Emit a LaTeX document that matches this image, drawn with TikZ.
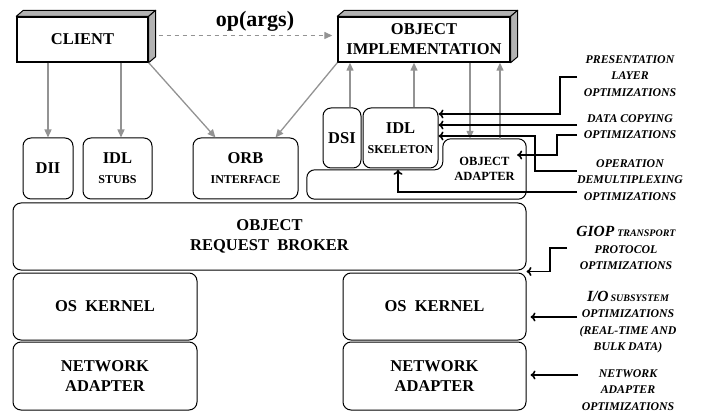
\documentclass[tikz,border=0pt]{standalone}
\usepackage{fontspec}
\setmainfont{Liberation Serif}
\usetikzlibrary{arrows.meta,calc}

\tikzset{
  box/.style={draw, line width=1pt, rounded corners=8pt, inner sep=0pt, align=center,
    font=\bfseries\fontsize{16.5}{20}\selectfont},
  slab/.style={draw, line width=1.4pt, fill=white, inner sep=0pt, align=center,
    font=\bfseries\fontsize{16.5}{20}\selectfont},
  shade/.style={draw, line width=1pt, fill=gray!60, line join=round},
  garrow/.style={draw=gray!85, line width=1.3pt, -{Triangle[length=8pt,width=7pt]}},
  darrow/.style={garrow, dash pattern=on 4pt off 4pt},
  barrow/.style={line width=1.6pt, -{To[length=5pt,width=9pt]}},
  note/.style={align=center, inner sep=0pt,
    font=\bfseries\itshape\fontsize{11.8}{16.5}\selectfont},
}
\newcommand\smallword[1]{{\fontsize{12}{14}\selectfont #1}}
\newcommand\bigword[1]{{\fontsize{15.5}{16}\selectfont #1}}
\newcommand\capword[1]{{\fontsize{10}{12}\selectfont #1}}
% raised top and side faces of a solid box
\newcommand\solidfaces[1]{%
  \draw[shade] (#1.north west) -- ++(7,-6) -- ([shift={(7,-6)}]#1.north east)
    -- (#1.north east) -- cycle;
  \draw[shade] (#1.north east) -- ([shift={(7,-6)}]#1.north east)
    -- ([shift={(7,-6)}]#1.south east) -- (#1.south east) -- cycle;
}

\begin{document}
\begin{tikzpicture}[x=1pt, y=-1pt]
\useasboundingbox (0,0) rectangle (704,414);

% client and servant
\node[slab, minimum width=131, minimum height=45] (client) at (82.5,39.5) {CLIENT};
\solidfaces{client}
\node[slab, minimum width=172, minimum height=45] (impl) at (424,39.5) {OBJECT\\IMPLEMENTATION};
\solidfaces{impl}
\node[font=\bfseries\fontsize{22}{24}\selectfont] (op) at (255,21) {op(args)};

% client-side and server-side ORB components
\node[box, minimum width=50, minimum height=61] (dii) at (48,168.5) {DII};
\node[box, minimum width=69, minimum height=61] (stubs) at (117.5,168.5) {IDL\\\smallword{STUBS}};
\node[box, minimum width=105, minimum height=61] (orbif) at (245.5,168.5) {ORB\\\smallword{INTERFACE}};
\node[box, minimum width=38, minimum height=60] (dsi) at (342,138) {DSI};
\node[box, minimum width=75, minimum height=60] (skel) at (400.5,138) {IDL\\\smallword{SKELETON}};

% object adapter with its base strip
\node[inner sep=0pt, minimum width=219, minimum height=29] (bar) at (416.5,184.5) {};
\node[inner sep=0pt, minimum width=83, minimum height=60, align=center,
  font=\bfseries\fontsize{12.5}{15}\selectfont] (oa) at (484.5,169) {OBJECT\\ADAPTER};
\draw[line width=1pt, rounded corners=8pt]
  (380,170) -- (oa.west |- bar.north) -- (oa.north west) -- (oa.north east)
  -- (bar.south east) -- (bar.south west) -- (bar.north west) -- cycle;

% ORB core and lower layers
\node[box, minimum width=513, minimum height=67] (orb) at (269.5,236.5) {OBJECT\\REQUEST\ \ BROKER};
\node[box, minimum width=184, minimum height=67] (osL) at (105,306.5) {OS\ \ KERNEL};
\node[box, minimum width=184, minimum height=68] (naL) at (105,376) {NETWORK\\ADAPTER};
\node[box, minimum width=183, minimum height=67] (osR) at (434.5,306.5) {OS\ \ KERNEL};
\node[box, minimum width=183, minimum height=68] (naR) at (434.5,376) {NETWORK\\ADAPTER};

% request paths
\draw[darrow] ([shift={(10,-4)}]client.east) -- ([shift={(-5,-4)}]impl.west);
\draw[garrow] (client.south -| dii.north) -- (dii.north);
\coordinate (stA) at ($(stubs.north)+(3.5,0)$);
\draw[garrow] (client.south -| stA) -- (stA);
\draw[garrow] (client.south east) -- ($(orbif.north)+(-30,0)$);
\draw[garrow] (impl.south west) -- ($(orbif.north)+(30,0)$);
\coordinate (dsiT) at ($(dsi.north)+(8,0)$);
\draw[garrow] (dsiT) -- (dsiT |- impl.south);
\coordinate (skT) at ($(skel.north)+(13.5,0)$);
\draw[garrow] (skT) -- (skT |- impl.south);
\coordinate (oaD) at ($(oa.north)+(-14.5,0)$);
\draw[garrow] (oaD |- impl.south) -- (oaD);
\coordinate (oaU) at ($(oa.north)+(15.5,0)$);
\draw[garrow] (oaU) -- (oaU |- impl.south);

% optimization labels
\node[note] (lPL) at (630,76) {PRESENTATION\\LAYER\\OPTIMIZATIONS};
\node[note] (lDC) at (630,126.5) {DATA COPYING\\OPTIMIZATIONS};
\node[note] (lOD) at (630,180) {OPERATION\\DEMULTIPLEXING\\OPTIMIZATIONS};
\node[note] (lG) at (626,248) {\bigword{GIOP} \capword{TRANSPORT}\\PROTOCOL\\OPTIMIZATIONS};
\node[note] (lIO) at (628,322) {\bigword{I/O}\,\capword{SUBSYSTEM}\\OPTIMIZATIONS\\(REAL-TIME AND\\BULK DATA)};
\node[note] (lNA) at (628,390) {NETWORK\\ADAPTER\\OPTIMIZATIONS};

% optimization pointers
\coordinate (pPL) at (577,77);
\draw[barrow] (pPL) -- (560,77) |- (skel.east |- 0,114);
\coordinate (pDC) at (577,125);
\draw[barrow] (pDC) -- (skel.east |- pDC);
\coordinate (pDC2) at (577,135);
\draw[barrow] (pDC2) -- (557,135) |- ($(oa.east |- 0,155)+(-9,0)$);
\coordinate (pOD) at (577,171);
\draw[barrow] (pOD) -- (535,171) |- (skel.east |- 0,136);
\coordinate (pOD2) at (577,192);
\draw[barrow] (pOD2) -| (bar.north -| 398,0);
\coordinate (pG) at (567,248);
\draw[barrow] (pG) -- (550,248) |- ($(orb.south east)!0.5!(osR.north east)$);
\coordinate (pIO) at (577,317);
\draw[barrow] (pIO) -- ($(osR.east |- pIO)+(4,0)$);
\coordinate (pNA) at (578,375);
\draw[barrow] (pNA) -- ($(naR.east |- pNA)+(4,0)$);
\end{tikzpicture}
\end{document}
